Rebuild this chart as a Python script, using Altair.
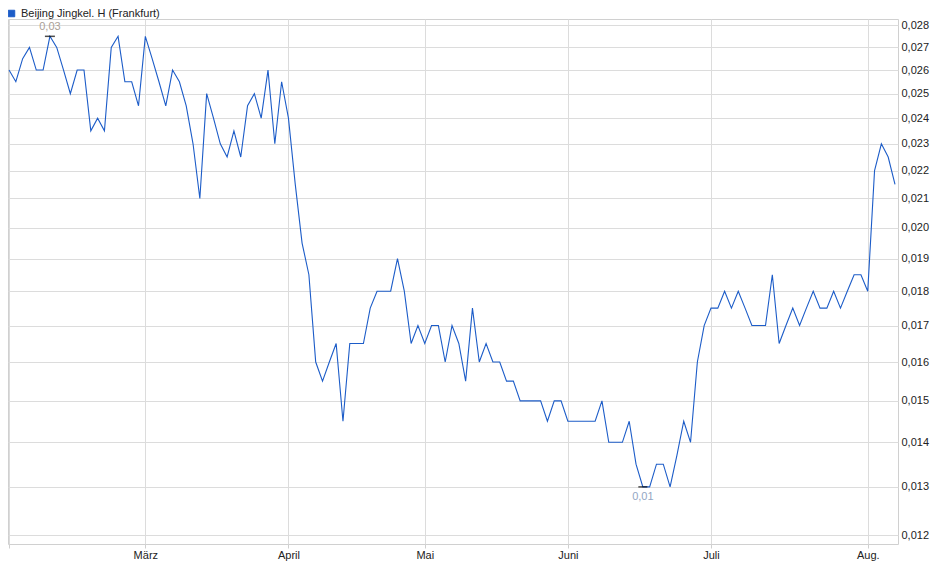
import altair as alt
import pandas as pd

series_name = "Beijing Jingkel. H (Frankfurt)"

# closing prices per trading day (Feb 3 .. Aug 7)
values_feb = [0.026, 0.0255, 0.0265, 0.027, 0.026, 0.026, 0.0275, 0.027, 0.026, 0.025,
              0.026, 0.026, 0.0235, 0.024, 0.0235, 0.027, 0.0275, 0.0255, 0.0255, 0.0245]
values_mar = [0.0275, 0.0265, 0.0255, 0.0245, 0.026, 0.0255, 0.0245, 0.023, 0.021, 0.025,
              0.024, 0.023, 0.0225, 0.0235, 0.0225, 0.0245, 0.025, 0.024, 0.026, 0.023, 0.0255]
values_apr = [0.024, 0.0215, 0.0195, 0.0185, 0.016, 0.0155, 0.016, 0.0165, 0.0145, 0.0165,
              0.0165, 0.0165, 0.0175, 0.018, 0.018, 0.018, 0.019, 0.018, 0.0165, 0.017]
values_may = [0.0165, 0.017, 0.017, 0.016, 0.017, 0.0165, 0.0155, 0.0175, 0.016, 0.0165,
              0.016, 0.016, 0.0155, 0.0155, 0.015, 0.015, 0.015, 0.015, 0.0145, 0.015, 0.015]
values_jun = [0.0145, 0.0145, 0.0145, 0.0145, 0.0145, 0.015, 0.014, 0.014, 0.014, 0.0145,
              0.0135, 0.013, 0.013, 0.0135, 0.0135, 0.013, 0.0137, 0.0145, 0.014, 0.016, 0.017]
values_jul = [0.0175, 0.0175, 0.018, 0.0175, 0.018, 0.0175, 0.017, 0.017, 0.017, 0.0185,
              0.0165, 0.017, 0.0175, 0.017, 0.0175, 0.018, 0.0175, 0.0175, 0.018, 0.0175,
              0.018, 0.0185, 0.0185]
values_aug = [0.018, 0.022, 0.023, 0.0225, 0.0215]

# month tick positions (trading-day index) and labels
month_idx = [0, 20, 41, 61, 82, 103, 126]
month_labels = ["", "März", "April", "Mai", "Juni", "Juli", "Aug."]

y_ticks = [0.012, 0.013, 0.014, 0.015, 0.016, 0.017, 0.018, 0.019, 0.020,
           0.021, 0.022, 0.023, 0.024, 0.025, 0.026, 0.027, 0.028]

values = values_feb + values_mar + values_apr + values_may + values_jun + values_jul + values_aug
df = pd.DataFrame({"idx": list(range(len(values))), "value": values, "series": series_name})

imax = max(range(len(values)), key=lambda i: values[i])
imin = min(range(len(values)), key=lambda i: values[i])
def fmt(v):
    return f"{round(v, 2):.2f}".replace(".", ",")
ann_max = pd.DataFrame({"idx": [imax], "value": [values[imax]], "label": [fmt(values[imax])]})
ann_min = pd.DataFrame({"idx": [imin], "value": [values[imin]], "label": [fmt(values[imin])]})

label_expr = " : ".join(
    [f"datum.value == {i} ? '{l}'" for i, l in zip(month_idx, month_labels)]) + " : ''"

FONT = "Liberation Sans"
LINE = "#1c5cc8"

x_enc = alt.X("idx:Q", scale=alt.Scale(domain=[-0.15, 130.44], nice=False, zero=False),
              axis=alt.Axis(values=month_idx, labelExpr=label_expr, title=None, grid=True,
                            gridColor="#dcdcdc", ticks=True, tickSize=4, tickColor="#cfcfcf",
                            domain=False, labelPadding=1, labelFont=FONT, labelFontSize=11,
                            labelColor="#222", labelAlign="center", labelOverlap=False))
y_enc = alt.Y("value:Q", scale=alt.Scale(type="log", domain=[0.011822, 0.028304], nice=False, zero=False),
              axis=alt.Axis(orient="right", values=y_ticks, title=None, grid=True, gridColor="#dcdcdc",
                            ticks=False, domain=False, labelPadding=3, labelFont=FONT, labelFontSize=11,
                            labelColor="#222", labelExpr="replace(format(datum.value, '.3f'), '.', ',')",
                            labelOverlap=False))

line = alt.Chart(df).mark_line(strokeWidth=1.1).encode(
    x=x_enc, y=y_enc,
    color=alt.Color("series:N", scale=alt.Scale(range=[LINE]),
                    legend=alt.Legend(orient="none", legendX=-2, legendY=-11, title=None,
                                      symbolType="square", symbolSize=42, symbolFillColor=LINE,
                                      symbolStrokeColor="#10337a", symbolStrokeWidth=1,
                                      labelFont=FONT, labelFontSize=11, labelColor="#222",
                                      labelOffset=4, padding=0)))

tick_max = alt.Chart(ann_max).mark_tick(orient="horizontal", size=10, thickness=1.5, color="black").encode(
    x="idx:Q", y="value:Q")
tick_min = alt.Chart(ann_min).mark_tick(orient="horizontal", size=9, thickness=1.5, color="black").encode(
    x="idx:Q", y="value:Q")
text_max = alt.Chart(ann_max).mark_text(dy=-9, font=FONT, fontSize=11, color="#aaa096").encode(
    x="idx:Q", y="value:Q", text="label:N")
text_min = alt.Chart(ann_min).mark_text(dy=10, font=FONT, fontSize=11, color="#93a6c3").encode(
    x="idx:Q", y="value:Q", text="label:N")

chart = alt.layer(line, tick_max, tick_min, text_max, text_min).properties(
    width=890, height=525,
    autosize=alt.AutoSizeParams(type="none"),
    padding={"left": 0, "top": 11, "right": 34, "bottom": 27},
    background="white",
).configure_view(stroke="#d0d0d0", strokeWidth=1)

chart.save("out.html", embed_options={"renderer": "svg", "actions": False})
